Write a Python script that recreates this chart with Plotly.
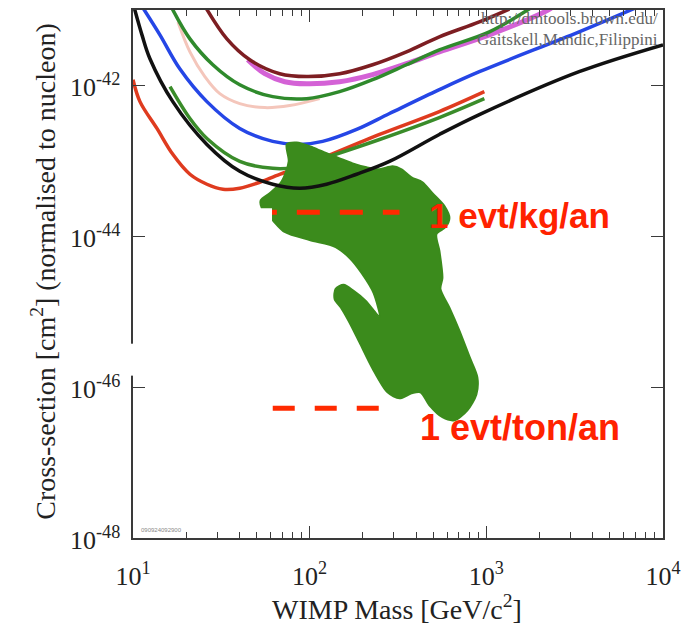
import math
import plotly.graph_objects as go

# ---------------- data: WIMP mass [GeV/c^2] vs cross-section [cm^2] ----------------
maroon_mass = [25.5, 34.0, 45.8, 67.7, 96.2, 147.7, 227, 353, 542, 913, 1349]
maroon_xs = [1.13e-41, 4.14e-42, 2.19e-42, 1.43e-42, 1.31e-42, 1.43e-42, 1.88e-42,
             2.79e-42, 4.41e-42, 6.95e-42, 1.03e-41]

magenta_mass = [44.6, 55.7, 72.2, 96.2, 147.7, 227, 353, 542, 1040, 2128, 2329]
magenta_xs = [2.19e-42, 1.43e-42, 1.12e-42, 1.05e-42, 1.12e-42, 1.39e-42, 1.94e-42,
              2.79e-42, 4.68e-42, 9.4e-42, 1.06e-41]

green_hi_mass = [16.6, 21.0, 28.3, 40.2, 61.8, 96.2, 147.7, 227, 353, 542, 1040, 1780]
green_hi_xs = [1.06e-41, 4.14e-42, 1.88e-42, 1.02e-42, 7.10e-43, 6.68e-43, 8.26e-43,
               1.19e-42, 1.88e-42, 2.96e-42, 5.13e-42, 1.06e-41]

pink_mass = [17.97, 21.0, 25.5, 31.0, 40.2, 55.7, 77.1, 113.9]
pink_xs = [6.95e-42, 2.79e-42, 1.31e-42, 7.78e-43, 5.74e-43, 5.08e-43, 5.41e-43, 6.68e-43]

blue_mass = [11.4, 14.2, 18.4, 26.2, 40.2, 61.8, 87.8, 118.4, 184.4, 283, 542, 913, 3352, 6950]
blue_xs = [1.06e-41, 4.68e-42, 1.66e-42, 6.10e-43, 2.69e-43, 1.81e-43, 1.65e-43, 1.81e-43,
           2.61e-43, 4.24e-43, 8.79e-43, 1.52e-42, 5.13e-42, 1.06e-41]

black_mass = [10.13, 11.24, 12.47, 16.8, 26.2, 40.2, 61.8, 87.8, 124.7, 184.4, 283, 542,
              913, 3352, 10000]
black_xs = [1.1e-41, 4.68e-42, 2.26e-42, 6.10e-43, 1.65e-43, 7.26e-44, 4.90e-44, 4.34e-44,
            4.90e-44, 6.64e-44, 9.84e-44, 2.24e-43, 4.11e-43, 1.52e-42, 3.45e-42]

red_mass = [10.0, 10.95, 13.66, 16.8, 21.0, 26.2, 32.3, 40.2, 50.2, 67.7, 87.8, 248.6, 542, 974.5]
red_xs = [1.19e-42, 6.10e-43, 2.69e-43, 1.22e-43, 6.64e-44, 4.90e-44, 4.21e-44, 4.34e-44,
          5.05e-44, 6.64e-44, 8.20e-44, 2.24e-43, 4.50e-43, 8.26e-43]

green_lo_mass = [16.2, 21.0, 26.2, 40.2, 61.8, 82.3, 129.7, 248.6, 542, 974.5]
green_lo_xs = [9.64e-43, 3.64e-43, 1.98e-43, 9.84e-44, 7.96e-44, 8.20e-44, 1.15e-43,
               1.92e-43, 3.75e-43, 6.68e-43]

# theoretical (SUSY) region, outline
region_mass = [74.2, 84.5, 104.0, 124.7, 147.7, 175.0, 209.9, 248.6, 294.4, 331.1, 377.0,
               434.9, 495.4, 579.1, 618.0, 586.7, 521.9, 542.6, 564.2, 549.7, 618.0, 703.8,
               801.5, 889.8, 878.2, 780.9, 659.5, 564.2, 476.4, 423.8, 377.0, 322.5, 275.9,
               226.9, 191.7, 168.3, 151.6, 138.4, 140.3, 155.6, 177.3, 207.2, 248.6, 229.9,
               196.7, 168.3, 140.3, 100.0, 72.2, 61.0, 53.6, 52.9, 59.4, 69.5, 76.1]
region_xs = [1.65e-43, 1.75e-43, 1.51e-43, 1.26e-43, 1.08e-43, 9.27e-44, 8.21e-44, 7.72e-44,
             8.46e-44, 7.72e-44, 6.05e-44, 5.20e-44, 3.72e-44, 2.51e-44, 1.74e-44, 1.32e-44,
             1.07e-44, 6.39e-45, 2.81e-45, 2.01e-45, 1.13e-45, 5.61e-46, 2.55e-46, 1.35e-46,
             8.02e-47, 4.93e-47, 3.64e-47, 3.99e-47, 5.74e-47, 8.53e-47, 8.27e-47, 7.10e-47,
             8.53e-47, 1.77e-46, 3.90e-46, 7.16e-46, 1.10e-45, 1.48e-45, 2.01e-45, 2.27e-45,
             1.89e-45, 1.40e-45, 8.59e-46, 1.78e-45, 3.27e-45, 5.16e-45, 7.21e-45, 8.92e-45,
             1.14e-44, 1.69e-44, 2.36e-44, 3.01e-44, 3.72e-44, 5.36e-44, 9.85e-44]

# event-rate reference levels
rate_kg_mass = [48.3, 322.5]
rate_kg_xs = 2.09e-44
rate_ton_mass = [61.8, 248.6]
rate_ton_xs = 5.24e-47
rate_labels = ["1 evt/kg/an", "1 evt/ton/an"]

x_tickvals = [10, 100, 1000, 10000]
x_ticktext = ["10<sup>1</sup>", "10<sup>2</sup>", "10<sup>3</sup>", "10<sup>4</sup>"]
y_tickvals = [1e-48, 1e-46, 1e-44, 1e-42]
y_ticktext = ["10<sup>-48</sup>", "10<sup>-46</sup>", "10<sup>-44</sup>", "10<sup>-42</sup>"]
x_minor = [d * k for d in (10, 100, 1000) for k in range(2, 10)]

SERIF = "Liberation Serif, Times New Roman, serif"
SANS = "Liberation Sans, Arial, sans-serif"

fig = go.Figure()


def curve(mass, xs, color, width):
    fig.add_trace(go.Scatter(x=mass, y=xs, mode="lines",
                             line=dict(color=color, width=width, shape="spline", smoothing=1.0),
                             hoverinfo="skip", showlegend=False))


curve(pink_mass, pink_xs, "#f4c6bb", 3)
curve(magenta_mass, magenta_xs, "#d462d6", 5)
curve(maroon_mass, maroon_xs, "#7d1e22", 3.5)
curve(green_hi_mass, green_hi_xs, "#2f8a2c", 3.5)
curve(blue_mass, blue_xs, "#2546e6", 3.5)
curve(red_mass, red_xs, "#df3b1f", 3.5)
curve(green_lo_mass, green_lo_xs, "#3a8c2a", 3.5)

fig.add_trace(go.Scatter(x=region_mass + region_mass[:1], y=region_xs + region_xs[:1],
                         mode="lines", fill="toself", fillcolor="#3b8b1c",
                         line=dict(color="#3b8b1c", width=2, shape="spline", smoothing=0.8),
                         hoverinfo="skip", showlegend=False))

curve(black_mass, black_xs, "#111111", 3.5)

fig.add_trace(go.Scatter(x=rate_kg_mass, y=[rate_kg_xs] * 2, mode="lines",
                         line=dict(color="#ff2a00", width=5, dash="23px,20px"),
                         hoverinfo="skip", showlegend=False))
fig.add_trace(go.Scatter(x=rate_ton_mass, y=[rate_ton_xs] * 2, mode="lines",
                         line=dict(color="#ff2a00", width=5, dash="22px,20px"),
                         hoverinfo="skip", showlegend=False))

axis_common = dict(type="log", showgrid=False, zeroline=False, showline=True,
                   linecolor="#3a3a3a", linewidth=2, mirror="allticks", ticks="inside",
                   ticklen=12, tickwidth=1.2, tickcolor="#3a3a3a",
                   tickfont=dict(family=SERIF, size=26, color="#222222"))

fig.update_xaxes(range=[1, 4], tickmode="array", tickvals=x_tickvals, ticktext=x_ticktext,
                 ticklabelstandoff=14,
                 minor=dict(ticks="inside", ticklen=6, tickwidth=1, tickcolor="#3a3a3a",
                            tickvals=x_minor, showgrid=False),
                 **axis_common)
# y tick labels are written as annotations so they sit clear of the frame
fig.update_yaxes(range=[-48, -41], tickmode="array", tickvals=y_tickvals,
                 showticklabels=False, **axis_common)

annotations = [
    dict(text="WIMP Mass [GeV/c<sup>2</sup>]", x=0.498, y=-0.132, xref="paper", yref="paper",
         xanchor="center", yanchor="middle", showarrow=False,
         font=dict(family=SERIF, size=28, color="#222222")),
    dict(text="Cross-section [cm<sup>2</sup>] (normalised to nucleon)", x=-0.168, y=0.506,
         xref="paper", yref="paper", textangle=-90, xanchor="center", yanchor="middle",
         showarrow=False, font=dict(family=SERIF, size=28, color="#222222")),
    dict(text="<b>%s</b>" % rate_labels[0], x=0.555, y=0.61, xref="paper", yref="paper",
         xanchor="left", yanchor="middle", showarrow=False,
         font=dict(family=SANS, size=35, color="#ff2200")),
    dict(text="<b>%s</b>" % rate_labels[1], x=0.537, y=0.21, xref="paper", yref="paper",
         xanchor="left", yanchor="middle", showarrow=False,
         font=dict(family=SANS, size=36, color="#ff2200")),
    dict(text="http://dmtools.brown.edu/", x=0.995, y=0.983, xref="paper", yref="paper",
         xanchor="right", yanchor="middle", showarrow=False,
         font=dict(family=SERIF, size=17, color="#666666")),
    dict(text="Gaitskell,Mandic,Filippini", x=0.995, y=0.944, xref="paper", yref="paper",
         xanchor="right", yanchor="middle", showarrow=False,
         font=dict(family=SERIF, size=17, color="#666666")),
    dict(text="090924092900", x=0.012, y=0.006, xref="paper", yref="paper",
         xanchor="left", yanchor="bottom", showarrow=False,
         font=dict(family=SANS, size=6, color="#888888")),
]
for val, txt in zip(y_tickvals, y_ticktext):
    annotations.append(dict(text=txt, x=-0.02, y=math.log10(val), xref="paper", yref="y",
                            xanchor="right", yanchor="middle", showarrow=False,
                            font=dict(family=SERIF, size=26, color="#222222")))

shapes = [
    dict(type="rect", xref="paper", yref="paper", x0=0.126, x1=0.2623, y0=0.562, y1=0.6245,
         fillcolor="white", line=dict(width=0), layer="above"),
    dict(type="rect", xref="paper", yref="paper", x0=-0.012, x1=0.013, y0=0.3075, y1=0.368,
         fillcolor="white", line=dict(width=0), layer="above"),
]

fig.update_layout(width=693, height=625, margin=dict(l=133, r=30, t=8, b=87),
                  paper_bgcolor="white", plot_bgcolor="white", showlegend=False,
                  annotations=annotations, shapes=shapes)

fig.write_html("out.html")
